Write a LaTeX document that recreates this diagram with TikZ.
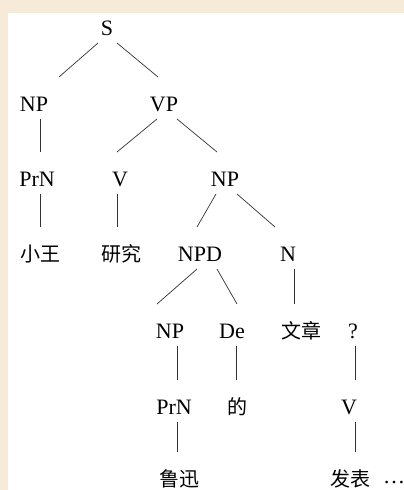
\documentclass[tikz,border=0pt]{standalone}
\usepackage{fontspec}
\setmainfont{Liberation Serif}
\newfontfamily\cjk{Noto Sans CJK SC}
\definecolor{paperBeige}{RGB}{246,235,216}

\newcommand{\topGap}{15}
\newcommand{\bottomGap}{27}
\newcommand{\branch}[4]{\draw[branch] ([shift={(#2pt,-\topGap pt)}]#1.center) -- ([shift={(#4pt,\bottomGap pt)}]#3.center);}

\tikzset{
  cat/.style={inner sep=0pt, font=\fontsize{22}{22}\selectfont},
  word/.style={inner sep=0pt, font=\cjk\fontsize{20}{20}\selectfont},
  branch/.style={line width=0.7pt, draw=black!80}
}

\begin{document}
\begin{tikzpicture}[x=1pt,y=-1pt]
        % Page
        \fill[paperBeige] (0,0) rectangle (404,490);
        \fill[white] (8,13) rectangle (404,490);
        \useasboundingbox (0,0) rectangle (404,490);

        % Categories
        \node[cat] (s) at (107,28) {S};
        \node[cat] (np1) at (34,104) {NP};
        \node[cat] (vp) at (164,104) {VP};
        \node[cat] (prn1) at (37,179) {PrN};
        \node[cat] (v1) at (120,179) {V};
        \node[cat] (np2) at (225,179) {NP};
        \node[cat] (npd) at (200,254) {NPD};
        \node[cat] (n) at (288,254) {N};
        \node[cat] (np3) at (170,331) {NP};
        \node[cat] (de) at (232,331) {De};
        \node[cat] (q) at (353,331) {?};
        \node[cat] (prn2) at (174,407) {PrN};
        \node[cat] (v2) at (349,407) {V};

        % Words
        \node[word] (xiaowang) at (40,254) {小王};
        \node[word] (yanjiu) at (121,254) {研究};
        \node[word] (wenzhang) at (301,331) {文章};
        \node[word] (dePart) at (237,407) {的};
        \node[word] (luxun) at (179,479) {鲁迅};
        \node[word] (fabiao) at (350,479) {发表};
        \node[cat] (dots) at (394,483) {…};

        % Draw branches
        \branch{s}{-9}{np1}{25}
        \branch{s}{10}{vp}{-6}
        \branch{np1}{6}{prn1}{3}
        \branch{vp}{-7}{v1}{-3}
        \branch{vp}{13}{np2}{-8}
        \branch{prn1}{3}{xiaowang}{0}
        \branch{v1}{-3}{yanjiu}{-4}
        \branch{np2}{-9}{npd}{-3}
        \branch{np2}{12}{n}{-13}
        \branch{npd}{-3}{np3}{-13}
        \branch{npd}{17}{de}{5}
        \branch{n}{6}{wenzhang}{-7}
        \branch{np3}{7}{prn2}{3}
        \branch{de}{4}{dePart}{-1}
        \branch{q}{2}{v2}{6}
        \branch{prn2}{3}{luxun}{-2}
        \branch{v2}{6}{fabiao}{5}
\end{tikzpicture}
\end{document}
